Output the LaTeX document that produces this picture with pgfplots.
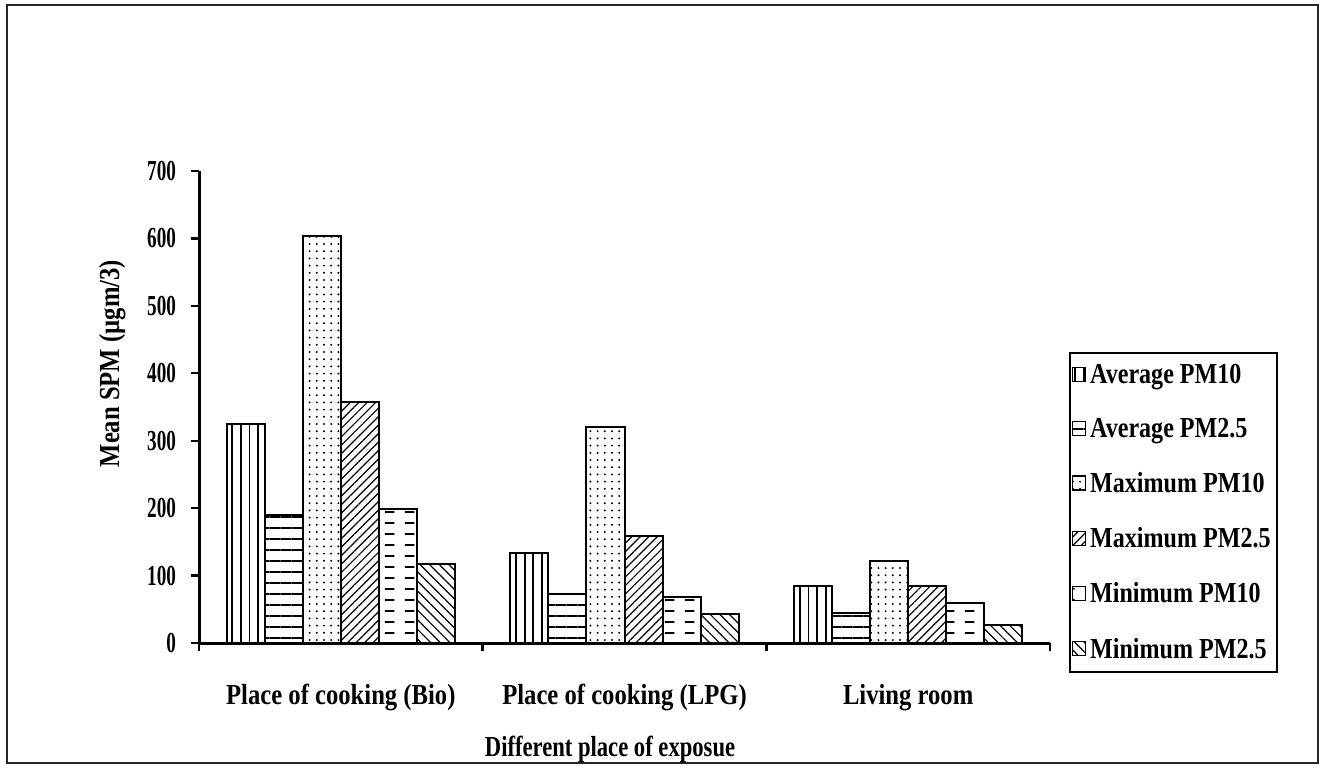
\documentclass[border=0pt]{standalone}
\usepackage{fontspec}
\setmainfont{Liberation Serif}
\newfontfamily\condT[FakeStretch=0.85]{Liberation Serif}
\newfontfamily\condL[FakeStretch=0.83]{Liberation Serif}
\newfontfamily\condX[FakeStretch=0.78]{Liberation Serif}
\newfontfamily\condD[FakeStretch=0.66]{Liberation Serif}
\usepackage{pgfplots}
\usepackage{pgfplotstable}
\pgfplotsset{compat=1.18}
\usetikzlibrary{patterns,patterns.meta}

\pgfdeclarepatternformonly{hdashes}{\pgfqpoint{0pt}{0pt}}{\pgfqpoint{10pt}{5.5pt}}{\pgfqpoint{10pt}{5.5pt}}{%
 \pgfsetlinewidth{0.9pt}\pgfpathmoveto{\pgfqpoint{2.5pt}{2.75pt}}\pgfpathlineto{\pgfqpoint{7.5pt}{2.75pt}}\pgfusepath{stroke}}

\pgfplotstableread{
x avg10 avg25 max10 max25 min10 min25
1 325 190 603 358 199 117
2 134 72 321 158 68 43
3 85 45 121 84 60 27
}\data

\begin{document}
\begin{tikzpicture}
\path (0pt,0pt) rectangle (662.5pt,-383pt);
\draw[line width=1pt, black!85] (3.5pt,-2.5pt) rectangle (659pt,-381.5pt);
\begin{axis}[
  at={(99.5pt,-321.5pt)}, anchor=south west,
  scale only axis, width=425.5pt, height=236pt,
  xmin=0.5, xmax=3.5, ymin=0, ymax=700,
  enlargelimits=false, clip=false,
  axis x line*=bottom, axis y line*=left,
  axis line style={line width=1.5pt, black},
  ybar=0pt, bar width=0.1343,
  tick align=outside, major tick length=4pt,
  tick style={line width=1.2pt, black},
  ytick={0,100,...,700},
  xtick={0.5,1.5,2.5,3.5}, xticklabels={,,,},
  extra x ticks={1,2,3},
  extra x tick labels={Place of cooking (Bio),Place of cooking (LPG),Living room},
  extra x tick style={tick style={draw=none}, xticklabel style={yshift=-13pt, font=\condT\fontsize{14.5}{16}\selectfont\bfseries}},
  /pgf/number format/assume math mode=true,
  yticklabel style={xshift=-4pt, font=\condD\fontsize{14.5}{16}\selectfont\bfseries},
  ylabel={Mean SPM (µgm/3)},
  ylabel style={at={(axis description cs:-0.102,0.592)}, anchor=center, font=\condT\fontsize{14.5}{16}\selectfont\bfseries},
  xlabel={Different place of exposue},
  xlabel style={at={(axis description cs:0.483,-0.226)}, anchor=center, font=\condX\fontsize{14.5}{16}\selectfont\bfseries},
  legend style={at={(axis description cs:1.0223,0.6165)}, anchor=north west,
    draw=black, line width=1pt, font=\condL\fontsize{14.5}{16}\selectfont\bfseries,
    inner xsep=1pt, inner ysep=3.5pt, row sep=12pt,
    /tikz/every odd column/.append style={column sep=0pt}},
  legend cell align=left,
  legend image code/.code={\draw[#1, line width=0.6pt] (0pt,-3pt) rectangle (6.5pt,4pt);},
]
\addplot[draw=black, line width=1pt, pattern={Lines[angle=90,distance=4.3pt,line width=0.9pt]}] table[x=x,y=avg10]{\data};
\addlegendentry{Average PM10}
\addplot[draw=black, line width=1pt, pattern={Lines[angle=0,distance=5.5pt,line width=0.9pt]}] table[x=x,y=avg25]{\data};
\addlegendentry{Average PM2.5}
\addplot[draw=black, line width=1pt, pattern={Dots[distance=3.6pt,radius=0.55pt]}] table[x=x,y=max10]{\data};
\addlegendentry{Maximum PM10}
\addplot[draw=black, line width=1pt, pattern={Lines[angle=45,distance=3pt,line width=0.6pt]}] table[x=x,y=max25]{\data};
\addlegendentry{Maximum PM2.5}
\addplot[draw=black, line width=1pt, pattern=hdashes] table[x=x,y=min10]{\data};
\addlegendentry{Minimum PM10}
\addplot[draw=black, line width=1pt, pattern={Lines[angle=-45,distance=3.4pt,line width=0.6pt]}] table[x=x,y=min25]{\data};
\addlegendentry{Minimum PM2.5}
\end{axis}
\end{tikzpicture}
\end{document}
